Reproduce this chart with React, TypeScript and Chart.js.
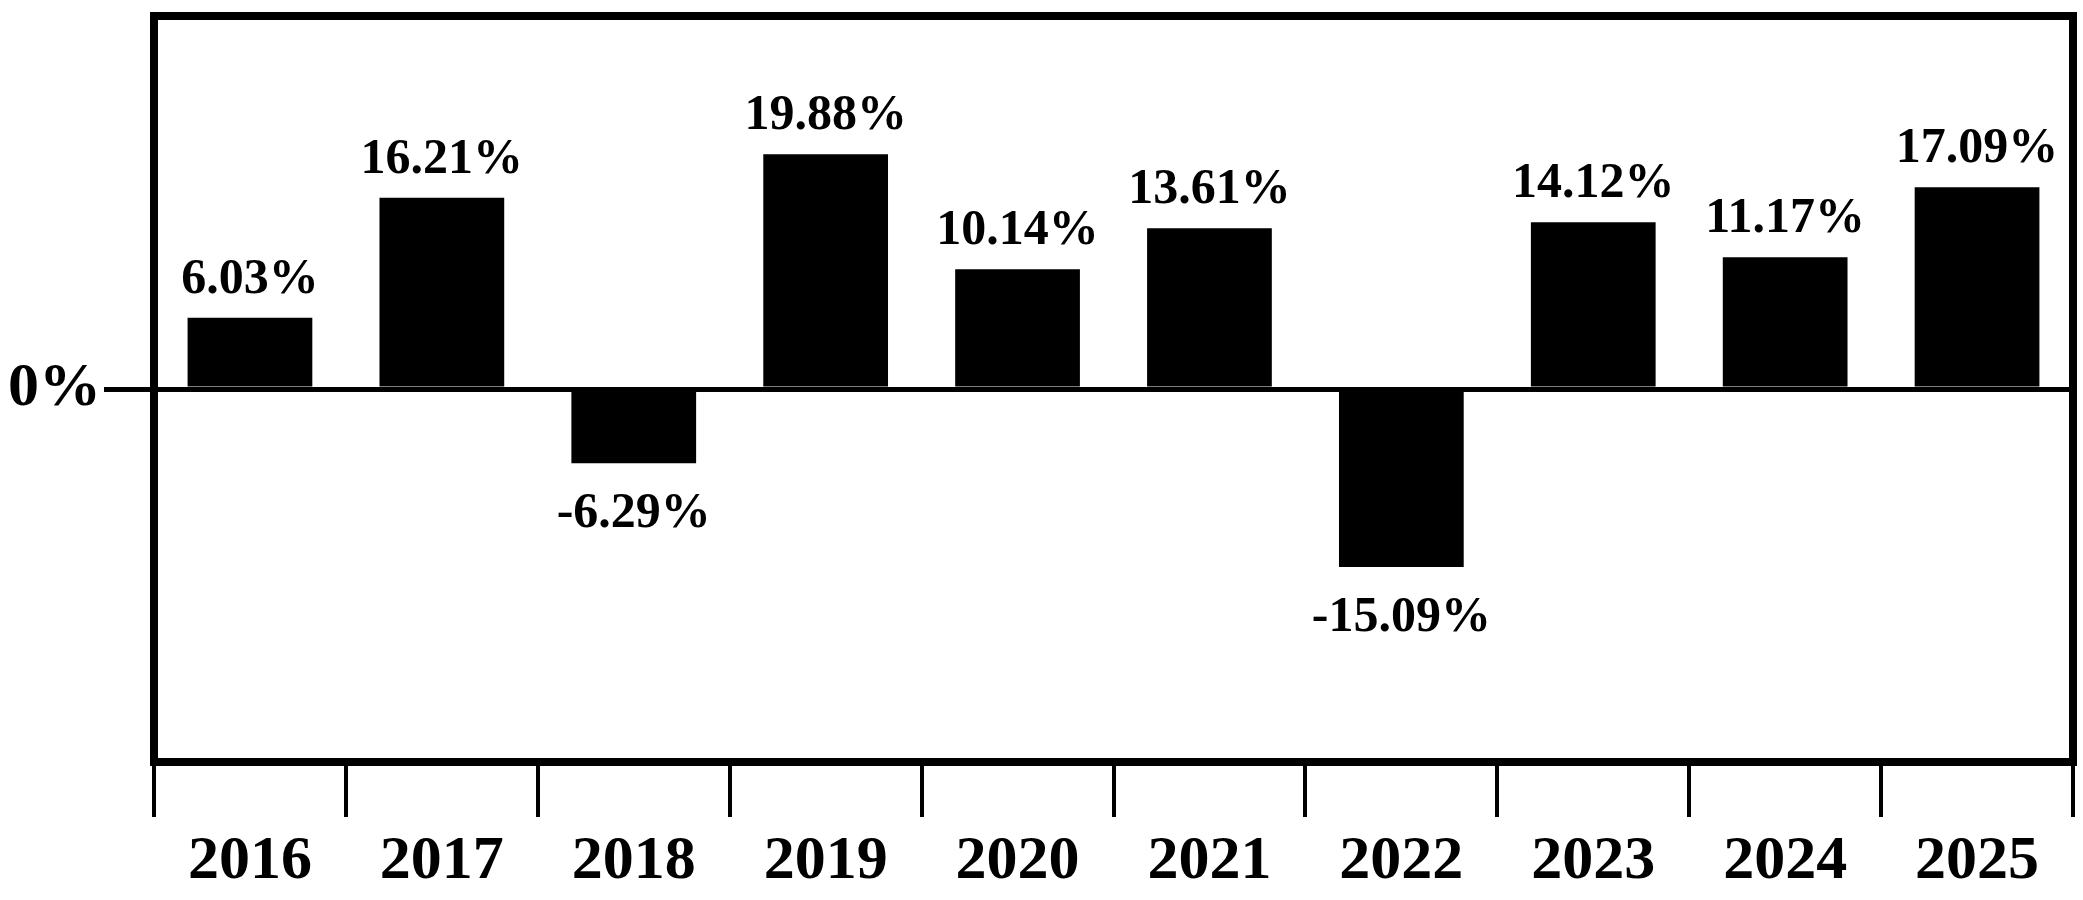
import React, { useEffect, useRef } from "react";
import { Chart, registerables } from "chart.js";

Chart.register(...registerables);

const years = ["2016", "2017", "2018", "2019", "2020", "2021", "2022", "2023", "2024", "2025"];
const returns = [6.03, 16.21, -6.29, 19.88, 10.14, 13.61, -15.09, 14.12, 11.17, 17.09];
const yTickValues = [0];
const yTickLabels = ["0%"];

const FONT = '"Liberation Serif", "Times New Roman", serif';

const boxPlugin = {
  id: "boxPlugin",
  afterDraw(chart: any) {
    const { ctx, chartArea } = chart;
    ctx.save();
    ctx.strokeStyle = "#000";
    ctx.lineWidth = 8;
    ctx.strokeRect(chartArea.left, chartArea.top, chartArea.right - chartArea.left, chartArea.bottom - chartArea.top);
    ctx.restore();
  },
};

const labelPlugin = {
  id: "labelPlugin",
  afterDatasetsDraw(chart: any) {
    const { ctx } = chart;
    const meta = chart.getDatasetMeta(0);
    ctx.save();
    ctx.fillStyle = "#000";
    ctx.font = `bold 50px ${FONT}`;
    ctx.textAlign = "center";
    ctx.textBaseline = "alphabetic";
    meta.data.forEach((bar: any, i: number) => {
      const v = returns[i];
      const text = v.toFixed(2) + "%";
      if (v >= 0) ctx.fillText(text, bar.x, bar.y - 25);
      else ctx.fillText(text, bar.x, bar.y + 64);
    });
    ctx.restore();
  },
};

export default function App() {
  const ref = useRef<HTMLCanvasElement | null>(null);
  useEffect(() => {
    document.body.style.margin = "0";
    document.body.style.background = "#fff";
    const canvas = ref.current!;
    const chart = new Chart(canvas, {
      type: "bar",
      data: {
        labels: years,
        datasets: [
          {
            data: returns,
            backgroundColor: "#000",
            borderWidth: 0,
            barPercentage: 0.65,
            categoryPercentage: 1,
          },
        ],
      },
      options: {
        responsive: false,
        animation: false,
        devicePixelRatio: 1,
        layout: { padding: { top: 16, right: 10, left: 0, bottom: 0 } },
        plugins: { legend: { display: false }, tooltip: { enabled: false } },
        scales: {
          x: {
            offset: true,
            grid: {
              offset: true,
              drawOnChartArea: false,
              drawTicks: true,
              tickLength: 55,
              lineWidth: 4,
              color: "#000",
              tickColor: "#000",
            },
            border: { display: false },
            ticks: {
              autoSkip: false,
              maxRotation: 0,
              color: "#000",
              font: { family: FONT, size: 62, weight: "bold" },
              padding: 8,
            },
            afterFit(scale: any) {
              scale.height = 138;
              scale.paddingLeft = 0;
              scale.paddingRight = 0;
            },
          },
          y: {
            min: -31.6,
            max: 31.6,
            grid: {
              drawOnChartArea: true,
              tickLength: 50,
              lineWidth: 5,
              color: "#000",
              tickColor: "#000",
            },
            border: { display: false },
            ticks: {
              color: "#000",
              font: { family: FONT, size: 62, weight: "bold" },
              padding: 3,
              callback: (value: any) => {
                const idx = yTickValues.indexOf(Number(value));
                return idx >= 0 ? yTickLabels[idx] : "";
              },
            },
            afterBuildTicks(scale: any) {
              scale.ticks = yTickValues.map((v) => ({ value: v }));
            },
            afterFit(scale: any) {
              scale.width = 154;
              scale.paddingTop = 0;
              scale.paddingBottom = 0;
            },
          },
        },
      },
      plugins: [boxPlugin, labelPlugin],
    });
    return () => chart.destroy();
  }, []);
  return <canvas ref={ref} width={2083} height={900} style={{ display: "block" }} />;
}
